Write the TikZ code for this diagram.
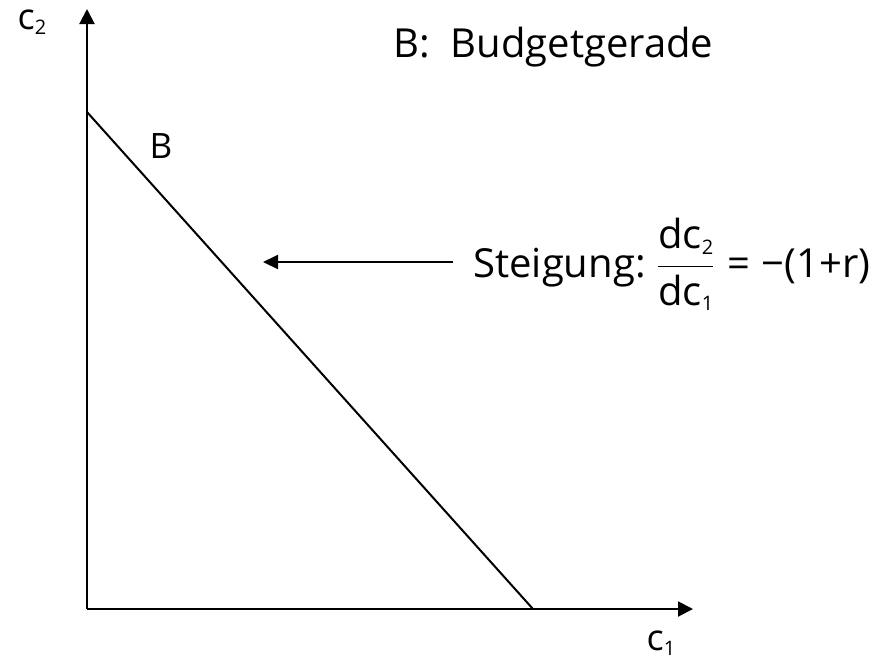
\documentclass[tikz,border=0pt]{standalone}
\usepackage{amsmath}
\usepackage{fontspec}
\setmainfont{Open Sans}
\usetikzlibrary{arrows.meta}

\newcommand{\smallsub}[1]{\raisebox{-0.25ex}{\fontsize{10}{12}\selectfont #1}}

\begin{document}
\begin{tikzpicture}[x=0.5pt, y=-0.5pt, every node/.style={font=\fontsize{20}{24}\selectfont, inner sep=0pt},
	axis/.style={line width=1pt, -{Triangle[length=7.5pt, width=7.5pt]}},
	budget/.style={line width=1pt}]
	\useasboundingbox (0,0) rectangle (889,661);
	% axes
	\coordinate (O) at (87,609);
	\coordinate (ytop) at (87,9);
	\coordinate (xend) at (693,609);
	\draw[axis] (O) -- (ytop);
	\draw[axis] (O) -- (xend);
	\node[font=\fontsize{18}{20}\selectfont] (c2) at (32,22) {c\smallsub{2}};
	\node[font=\fontsize{18}{20}\selectfont] (c1) at (661,643) {c\smallsub{1}};
	% Budgetgerade
	\coordinate (Btop) at (87,112);
	\coordinate (Bbot) at (533,609);
	\draw[budget] (Btop) -- (Bbot);
	\node[font=\fontsize{17.5}{20}\selectfont] (Blab) at (161,146) {B};
	\node[anchor=west] (title) at (393,47) {B:\ \ Budgetgerade};
	% Steigung
	\node[anchor=base west] (slope) at (473,277)
		{Steigung:\ $\dfrac{\text{dc\smallsub{2}}}{\text{dc\smallsub{1}}}\;\text{=}\;\text{\textminus(1+r)}$};
	\coordinate (tail) at (453,262);
	\coordinate (tip) at (263,262);
	\draw[line width=1pt, -{Triangle[length=7.5pt, width=7pt]}] (tail) -- (tip);
\end{tikzpicture}
\end{document}
